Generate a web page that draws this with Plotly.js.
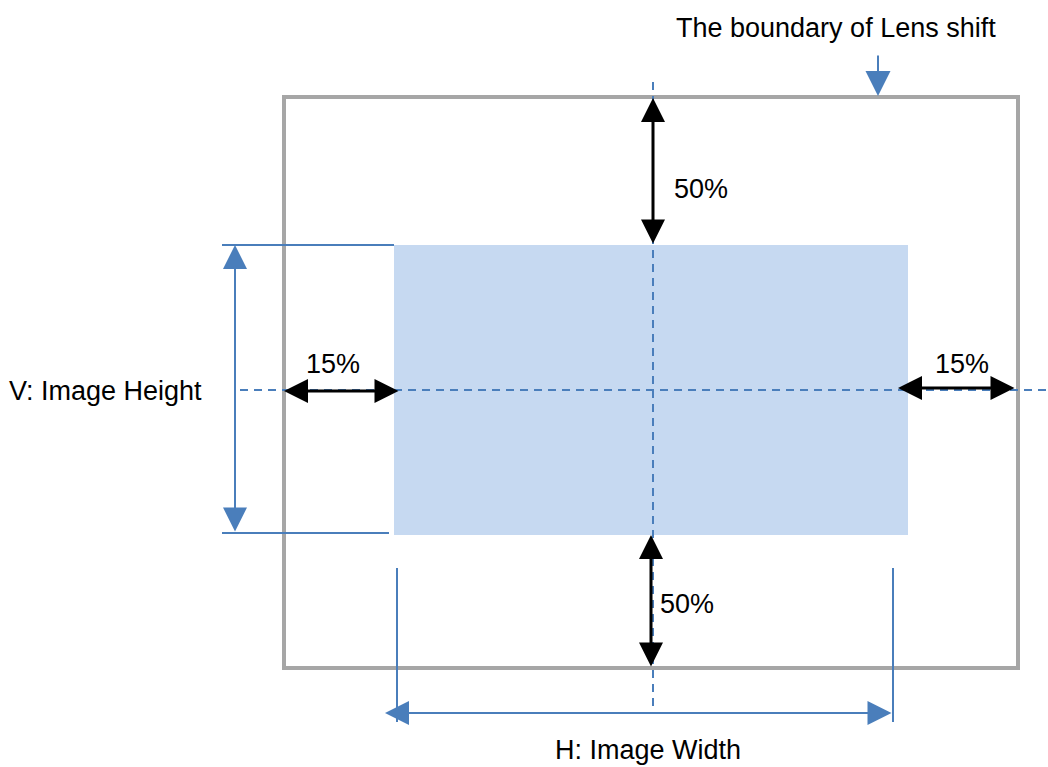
<!DOCTYPE html>
<html>
<head>
<meta charset="utf-8">
<script src="https://cdn.plot.ly/plotly-3.0.1.min.js"></script>
<style>html,body{margin:0;padding:0;background:#fff;}#chart{width:1048px;height:767px;}</style>
</head>
<body>
<div id="chart"></div>
<script>
// Diagram geometry (pixel-like units on a 1048 x 767 canvas)
const boundaryX = [284, 1018];
const boundaryY = [97, 668];
const imageX = [394, 908];
const imageY = [245, 535];
const centerX = 653;
const centerY = 390;
const shiftLabels = ['50%', '50%', '15%', '15%'];
const sizeLabels = ['V: Image Height', 'H: Image Width'];
const boundaryLabel = 'The boundary of Lens shift';

const BLUE = '#4a7ebb';
const GRAY = '#a6a6a6';
const FILL = '#c6d9f1';
const FONT = {family: 'Liberation Sans, Arial, sans-serif', size: 27, color: '#000'};

const shapes = [
  {type: 'rect', x0: imageX[0], x1: imageX[1], y0: imageY[0], y1: imageY[1],
   fillcolor: FILL, line: {width: 0}, layer: 'below'},
  {type: 'rect', x0: boundaryX[0], x1: boundaryX[1], y0: boundaryY[0], y1: boundaryY[1],
   line: {color: GRAY, width: 4}},
  // dashed center lines
  {type: 'line', x0: centerX, x1: centerX, y0: 82, y1: 710,
   line: {color: BLUE, width: 2, dash: '8px,6px'}},
  {type: 'line', x0: 240, x1: 1046, y0: centerY, y1: centerY,
   line: {color: BLUE, width: 2, dash: '8px,6px'}},
  // V extension lines
  {type: 'line', x0: 222, x1: imageX[0], y0: imageY[0], y1: imageY[0], line: {color: BLUE, width: 2}},
  {type: 'line', x0: 222, x1: 389, y0: 533, y1: 533, line: {color: BLUE, width: 2}},
  // H extension lines
  {type: 'line', x0: 397, x1: 397, y0: 568, y1: 722, line: {color: BLUE, width: 2}},
  {type: 'line', x0: 893, x1: 893, y0: 568, y1: 722, line: {color: BLUE, width: 2}}
];

function arrow(x, y, ax, ay, color, w, size, both) {
  return {x: x, y: y, ax: ax, ay: ay, xref: 'x', yref: 'y', axref: 'x', ayref: 'y',
    text: '', showarrow: true, arrowhead: 2, startarrowhead: 2,
    arrowside: both ? 'end+start' : 'end', arrowcolor: color,
    arrowwidth: w, arrowsize: size, startarrowsize: size, standoff: 0, startstandoff: 0};
}

const annotations = [
  // black shift arrows
  arrow(653, boundaryY[0] + 1, 653, imageY[0], '#000', 3, 1.6, true),
  arrow(651, imageY[1], 651, boundaryY[1], '#000', 3, 1.6, true),
  arrow(boundaryX[0], 391, 400, 391, '#000', 3, 1.6, true),
  arrow(898, 388, 1016, 388, '#000', 3, 1.6, true),
  // blue dimension arrows
  arrow(235, imageY[0], 235, 533, BLUE, 2, 2.4, true),
  arrow(385, 713, 893, 713, BLUE, 2, 2.4, true),
  // lens shift pointer
  arrow(878, boundaryY[0] - 1, 878, 54, BLUE, 2, 2.5, false),
  // labels
  {x: 701, y: 189, xref: 'x', yref: 'y', text: shiftLabels[0], showarrow: false, font: FONT},
  {x: 687, y: 604, xref: 'x', yref: 'y', text: shiftLabels[1], showarrow: false, font: FONT},
  {x: 333, y: 364, xref: 'x', yref: 'y', text: shiftLabels[2], showarrow: false, font: FONT},
  {x: 962, y: 364, xref: 'x', yref: 'y', text: shiftLabels[3], showarrow: false, font: FONT},
  {x: 105, y: 391, xref: 'x', yref: 'y', text: sizeLabels[0], showarrow: false, font: FONT},
  {x: 648, y: 750, xref: 'x', yref: 'y', text: sizeLabels[1], showarrow: false, font: FONT},
  {x: 836, y: 28, xref: 'x', yref: 'y', text: boundaryLabel, showarrow: false, font: FONT}
];

const layout = {
  width: 1048, height: 767,
  margin: {l: 0, r: 0, t: 0, b: 0},
  paper_bgcolor: '#fff', plot_bgcolor: '#fff',
  xaxis: {range: [0, 1048], visible: false, fixedrange: true},
  yaxis: {range: [767, 0], visible: false, fixedrange: true},
  showlegend: false,
  shapes: shapes,
  annotations: annotations
};

Plotly.newPlot('chart', [{x: [], y: [], type: 'scatter', mode: 'markers', hoverinfo: 'skip'}], layout,
  {staticPlot: true, displayModeBar: false});
</script>
</body>
</html>
